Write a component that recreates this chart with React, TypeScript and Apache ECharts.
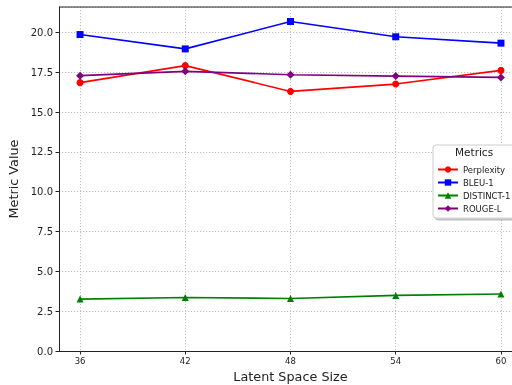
import React, { useEffect, useRef } from "react";
import * as echarts from "echarts";

const latentSizes = [36, 42, 48, 54, 60];
const perplexity = [16.85, 17.92, 16.3, 16.76, 17.62];
const bleu1 = [19.87, 18.97, 20.69, 19.73, 19.33];
const distinct1 = [3.26, 3.36, 3.3, 3.49, 3.58];
const rougeL = [17.29, 17.56, 17.35, 17.26, 17.18];

const FONT = "DejaVu Sans";
const GRID_LINE = { color: "#b0b0b0", type: [1.2, 1.8], width: 0.8 };

export default function App() {
  const ref = useRef<HTMLDivElement>(null);
  useEffect(() => {
    if (!ref.current) return;
    const chart = echarts.init(ref.current, undefined, { renderer: "svg" });
    const mk = (name: string, data: number[], color: string, symbol: string, size: number) => ({
      name,
      type: "line",
      data: latentSizes.map((x, i) => [x, data[i]]),
      symbol,
      symbolSize: size,
      itemStyle: { color },
      lineStyle: { color, width: 1.6 },
      emphasis: { disabled: true },
    });
    chart.setOption({
      animation: false,
      textStyle: { fontFamily: FONT },
      grid: { left: 59, right: -10, top: 7, bottom: 34, containLabel: false, outerBoundsMode: "none" },
      xAxis: {
        type: "value",
        min: 34.8,
        max: 61.2,
        name: "Latent Space Size",
        nameLocation: "middle",
        nameGap: 19,
        nameTextStyle: { fontSize: 12.8, color: "#222", fontFamily: FONT },
        axisLine: { show: true, onZero: false, lineStyle: { color: "#222", width: 1 } },
        axisTick: { show: true, length: 3.5, customValues: latentSizes, lineStyle: { color: "#222" } },
        axisLabel: { customValues: latentSizes, fontSize: 8.5, color: "#222", margin: 5, fontFamily: FONT },
        splitLine: { show: true, lineStyle: GRID_LINE },
      },
      yAxis: {
        type: "value",
        min: 0,
        max: 21.6,
        interval: 2.5,
        name: "Metric Value",
        nameLocation: "middle",
        nameGap: 35,
        nameTextStyle: { fontSize: 12.8, color: "#222", fontFamily: FONT },
        axisLine: { show: true, lineStyle: { color: "#222", width: 1 } },
        axisTick: { show: true, length: 3.5, lineStyle: { color: "#222" } },
        axisLabel: {
          fontSize: 10,
          color: "#222",
          margin: 6,
          showMaxLabel: false,
          fontFamily: FONT,
          formatter: (v: number) => v.toFixed(1),
        },
        splitLine: { show: true, lineStyle: GRID_LINE },
      },
      legend: {
        orient: "vertical",
        left: 433,
        top: 145,
        padding: [20, 6, 5, 4],
        itemWidth: 20,
        itemHeight: 8,
        itemGap: 4,
        backgroundColor: "#fff",
        borderColor: "#cccccc",
        borderWidth: 1,
        borderRadius: 3,
        shadowColor: "rgba(0,0,0,0.25)",
        shadowOffsetX: 2,
        shadowOffsetY: 2,
        shadowBlur: 0,
        textStyle: { fontSize: 8.5, color: "#222", fontFamily: FONT },
        data: ["Perplexity", "BLEU-1", "DISTINCT-1", "ROUGE-L"],
      },
      graphic: [
        {
          type: "text",
          left: 455,
          top: 146,
          z: 100,
          style: { text: "Metrics", fontSize: 10.5, fill: "#222", fontFamily: FONT },
        },
        {
          type: "line",
          shape: { x1: 59, y1: 7, x2: 512, y2: 7 },
          style: { stroke: "#222", lineWidth: 1 },
          z: 50,
        },
      ],
      series: [
        mk("Perplexity", perplexity, "#ff0000", "circle", 7),
        mk("BLEU-1", bleu1, "#0000ff", "rect", 7),
        mk("DISTINCT-1", distinct1, "#008000", "triangle", 7),
        mk("ROUGE-L", rougeL, "#800080", "diamond", 8),
      ],
    });
    return () => chart.dispose();
  }, []);
  return <div ref={ref} style={{ position: "fixed", left: 0, top: 0, width: 512, height: 385 }} />;
}
